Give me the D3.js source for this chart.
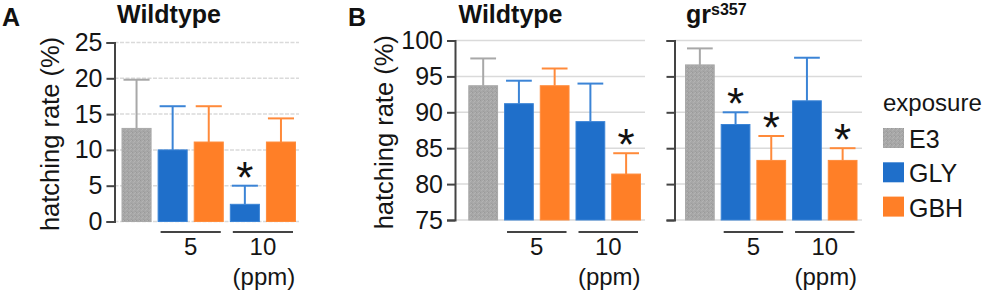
<!DOCTYPE html>
<html>
<head>
<meta charset="utf-8">
<script src="https://cdn.jsdelivr.net/npm/d3@7"></script>
<style>
  body { margin: 0; background: #fff; }
  svg { display: block; font-family: "Liberation Sans", Arial, sans-serif; }
</style>
</head>
<body>
<svg width="989" height="293"></svg>
<script>
// Groups along the x axis (exposure + dose)
const groups = ["E3", "GLY5", "GBH5", "GLY10", "GBH10"];
const exposure = ["E3", "GLY", "GBH", "GLY", "GBH"];
const doses = ["5", "10"];
const legendItems = ["E3", "GLY", "GBH"];

// Panel A: wildtype hatching rate, low range
const wtAMean = [13.0, 10.0, 11.1, 2.4, 11.1];
const wtAErr = [6.8, 6.1, 5.0, 2.6, 3.3];
const wtASig = [0, 0, 0, 1, 0];
const ticksA = [0, 5, 10, 15, 20, 25];

// Panel B: wildtype and gr mutant
const wtBMean = [93.7, 91.2, 93.7, 88.7, 81.4];
const wtBErr = [3.8, 3.2, 2.4, 5.3, 2.9];
const wtBSig = [0, 0, 0, 0, 1];
const grMean = [96.6, 88.3, 83.3, 91.6, 83.3];
const grErr = [2.3, 1.7, 3.4, 6.0, 1.7];
const grSig = [0, 1, 1, 0, 1];
const ticksB = [75, 80, 85, 90, 95, 100];

const fillColor = { E3: "url(#grain)", GLY: "#1f6fca", GBH: "#ff7f27" };
const edgeColor = { E3: "#a9a9a9", GLY: "#3b84d6", GBH: "#ff8c3c" };
const errColor = { E3: "#a8a8a8", GLY: "#3b84d6", GBH: "#ff8a3a" };
const textColor = "#151515";

const svg = d3.select("svg");

// speckled grey texture for the E3 bars
const pat = svg.append("defs").append("pattern")
    .attr("id", "grain")
    .attr("width", 4).attr("height", 4)
    .attr("patternUnits", "userSpaceOnUse");
pat.append("rect").attr("width", 4).attr("height", 4).attr("fill", "#a7a7a7");
[[0, 0, "#9a9a9a"], [2, 1, "#b4b4b4"], [1, 2, "#b0b0b0"], [3, 3, "#9d9d9d"], [3, 0, "#b2b2b2"]]
    .forEach(d => pat.append("rect").attr("x", d[0]).attr("y", d[1])
        .attr("width", 1).attr("height", 1).attr("fill", d[2]));

function drawPanel(cfg) {
    const g = svg.append("g");
    const x = d3.scaleBand().domain(groups).range(cfg.xRange)
        .paddingInner(0.167).paddingOuter(0);
    const y = d3.scaleLinear().domain(cfg.yDomain).range(cfg.yRange);
    const bw = x.bandwidth();

    // gridlines
    g.selectAll(".grid").data(cfg.ticks).join("line")
        .attr("x1", cfg.axisX).attr("x2", cfg.gridEnd)
        .attr("y1", d => y(d)).attr("y2", d => y(d))
        .attr("stroke", "#dadada").attr("stroke-width", 1.5)
        .attr("stroke-dasharray", cfg.dashed ? "4,1.5" : null);

    // bars
    g.selectAll(".bar").data(groups).join("rect")
        .attr("x", d => x(d) + 0.5)
        .attr("y", (d, i) => y(cfg.mean[i]))
        .attr("width", bw - 1)
        .attr("height", (d, i) => y(cfg.yDomain[0]) - y(cfg.mean[i]))
        .attr("fill", (d, i) => fillColor[exposure[i]])
        .attr("stroke", (d, i) => edgeColor[exposure[i]])
        .attr("stroke-width", 1);

    // error bars (upper only)
    const eb = g.selectAll(".err").data(groups).join("g")
        .attr("stroke", (d, i) => errColor[exposure[i]])
        .attr("stroke-width", 2);
    eb.append("line")
        .attr("x1", d => x(d) + bw / 2).attr("x2", d => x(d) + bw / 2)
        .attr("y1", (d, i) => y(cfg.mean[i]))
        .attr("y2", (d, i) => y(cfg.mean[i] + cfg.err[i]));
    eb.append("line")
        .attr("x1", d => x(d) + 2).attr("x2", d => x(d) + bw - 2)
        .attr("y1", (d, i) => y(cfg.mean[i] + cfg.err[i]))
        .attr("y2", (d, i) => y(cfg.mean[i] + cfg.err[i]));

    // significance stars
    g.selectAll(".star").data(groups.filter((d, i) => cfg.sig[i])).join("text")
        .attr("x", d => x(d) + bw / 2)
        .attr("y", d => { const i = groups.indexOf(d); return y(cfg.mean[i] + cfg.err[i]) + 7; })
        .attr("text-anchor", "middle")
        .attr("font-size", 44)
        .attr("fill", "#111")
        .text("*");

    // y axis
    const axis = d3.axisLeft(y).tickValues(cfg.ticks).tickSize(8).tickPadding(4)
        .tickFormat(cfg.showLabels ? d3.format("d") : "");
    const ax = g.append("g").attr("transform", `translate(${cfg.axisX},0)`).call(axis);
    ax.select(".domain").attr("stroke", "#444").attr("stroke-width", 2);
    ax.selectAll(".tick line").attr("stroke", "#444").attr("stroke-width", 2);
    ax.selectAll(".tick text").attr("font-size", 25).attr("fill", textColor)
        .attr("font-family", "Liberation Sans, Arial, sans-serif");

    // dose underlines and labels
    doses.forEach((dose, k) => {
        const x0 = x("GLY" + dose) + 3;
        const x1 = x("GBH" + dose) + bw - 3;
        g.append("line").attr("x1", x0).attr("x2", x1)
            .attr("y1", 232).attr("y2", 232)
            .attr("stroke", "#444").attr("stroke-width", 2);
        g.append("text").attr("x", (x0 + x1) / 2).attr("y", 255)
            .attr("text-anchor", "middle").attr("font-size", 24).attr("fill", textColor)
            .text(dose);
        if (k === 1) {
            g.append("text").attr("x", (x0 + x1) / 2 + 1).attr("y", 285)
                .attr("text-anchor", "middle").attr("font-size", 24).attr("fill", textColor)
                .text("(ppm)");
        }
    });

    // title
    const t = g.append("text").attr("x", cfg.titleX).attr("y", 23)
        .attr("text-anchor", cfg.titleAnchor).attr("font-size", 25)
        .attr("font-weight", "bold").attr("fill", "#111");
    t.append("tspan").text(cfg.title);
    if (cfg.sup) {
        t.append("tspan").attr("font-size", 16).attr("dy", -8).text(cfg.sup);
    }

    // y label
    if (cfg.labelX) {
        g.append("text")
            .attr("transform", `translate(${cfg.labelX},${(cfg.yRange[0] + cfg.yRange[1]) / 2 + 2}) rotate(-90)`)
            .attr("text-anchor", "middle").attr("font-size", 25.5).attr("fill", textColor)
            .text("hatching rate (%)");
    }
}

drawPanel({
    mean: wtAMean, err: wtAErr, sig: wtASig, ticks: ticksA,
    yDomain: [0, 25], yRange: [221.5, 42.5], xRange: [121.5, 296],
    axisX: 114.5, gridEnd: 299, dashed: true, showLabels: true,
    title: "Wildtype", titleX: 169, titleAnchor: "middle", labelX: 59
});
drawPanel({
    mean: wtBMean, err: wtBErr, sig: wtBSig, ticks: ticksB,
    yDomain: [75, 100], yRange: [220, 40.5], xRange: [468.3, 641],
    axisX: 455, gridEnd: 645, dashed: false, showLabels: true,
    title: "Wildtype", titleX: 510.5, titleAnchor: "middle", labelX: 393
});
drawPanel({
    mean: grMean, err: grErr, sig: grSig, ticks: ticksB,
    yDomain: [75, 100], yRange: [220, 40.5], xRange: [685, 857.5],
    axisX: 674.5, gridEnd: 862, dashed: false, showLabels: false,
    title: "gr", sup: "s357", titleX: 686, titleAnchor: "start"
});

// panel letters
svg.append("text").attr("x", 2).attr("y", 26).attr("font-size", 25)
    .attr("font-weight", "bold").attr("fill", "#111").text("A");
svg.append("text").attr("x", 348).attr("y", 26).attr("font-size", 25)
    .attr("font-weight", "bold").attr("fill", "#111").text("B");

// legend
const legend = svg.append("g").attr("transform", "translate(883,0)");
legend.append("text").attr("x", 0).attr("y", 111).attr("font-size", 24)
    .attr("fill", textColor).text("exposure");
legendItems.forEach((name, i) => {
    const yy = 128 + i * 34.3;
    legend.append("rect").attr("x", 0).attr("y", yy).attr("width", 21).attr("height", 20)
        .attr("fill", fillColor[name]);
    legend.append("text").attr("x", 26).attr("y", yy + 20).attr("font-size", 25)
        .attr("fill", textColor).text(name);
});
</script>
</body>
</html>
